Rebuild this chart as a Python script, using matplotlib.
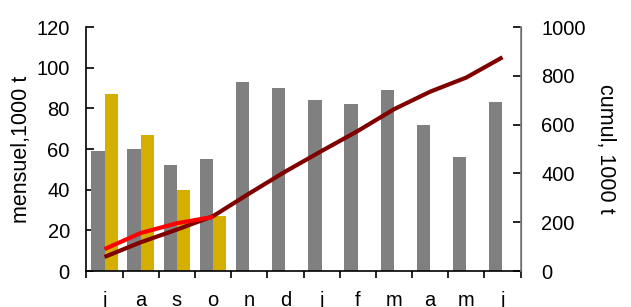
import numpy as np
import matplotlib
matplotlib.use('Agg')
import matplotlib.pyplot as plt

plt.rcParams['font.family'] = ['Liberation Sans', 'DejaVu Sans']

# mois (juillet -> juin)
mois = ['j', 'a', 's', 'o', 'n', 'd', 'j', 'f', 'm', 'a', 'm', 'j']
# mensuel, 1000 t
mensuel_prec = [59, 60, 52, 55, 93, 90, 84, 82, 89, 72, 56, 83]
mensuel_cour = [87, 67, 40, 27]
# cumul, 1000 t
cumul_prec = [58, 118, 170, 225, 318, 408, 492, 574, 663, 735, 793, 876]
cumul_cour = [90, 156, 196, 222]

x = np.arange(len(mois))
x2 = np.arange(len(mensuel_cour))

fig = plt.figure(figsize=(6.31, 3.07), dpi=100)
ax = fig.add_axes([0.137, 0.117, 0.688, 0.795])
ax2 = ax.twinx()

w = 0.37
ax.bar(x - 0.185, mensuel_prec, width=w, color='#808080', zorder=2)
ax.bar(x2 + 0.185, mensuel_cour, width=w, color='#D4AF00', zorder=2)

ax2.plot(x, cumul_prec, color='#800000', lw=3, solid_capstyle='butt')
ax2.plot(x2, cumul_cour, color='#FF0000', lw=3, solid_capstyle='butt')

ax.set_xlim(-0.5, len(mois) - 0.5)
ax.set_ylim(0, 120)
ax.set_yticks(range(0, 121, 20))
ax2.set_ylim(0, 1000)
ax2.set_yticks(range(0, 1001, 200))

# ticks de l'axe x aux limites des catégories
ax.set_xticks(np.arange(-0.5, len(mois), 1.0))
ax.set_xticklabels([])
ax.set_xticks(x, minor=True)
ax.set_xticklabels(mois, minor=True)
ax.tick_params(axis='x', which='major', direction='out', length=5, width=1.2)
ax.tick_params(axis='x', which='minor', length=0, pad=14, labelsize=14.5)

ax.tick_params(axis='y', direction='in', length=6, width=1.2, pad=12, labelsize=14.5)
ax2.tick_params(axis='y', direction='in', length=6, width=1.2, pad=15, labelsize=14.5)

for a in (ax, ax2):
    a.spines['top'].set_visible(False)
ax.spines['left'].set_linewidth(1.2)
ax.spines['bottom'].set_linewidth(1.2)
ax2.spines['right'].set_linewidth(1.2)
ax2.spines['right'].set_color('#808080')
ax2.spines['left'].set_visible(False)
ax2.spines['bottom'].set_visible(False)

ax.set_ylabel('mensuel,1000 t', fontsize=15.5, labelpad=3)
ax2.set_ylabel('cumul, 1000 t', fontsize=15.5, rotation=-90, labelpad=22)

ax.set_zorder(ax2.get_zorder() - 1)
ax2.patch.set_visible(False)

fig.savefig('out.png', dpi=100)
